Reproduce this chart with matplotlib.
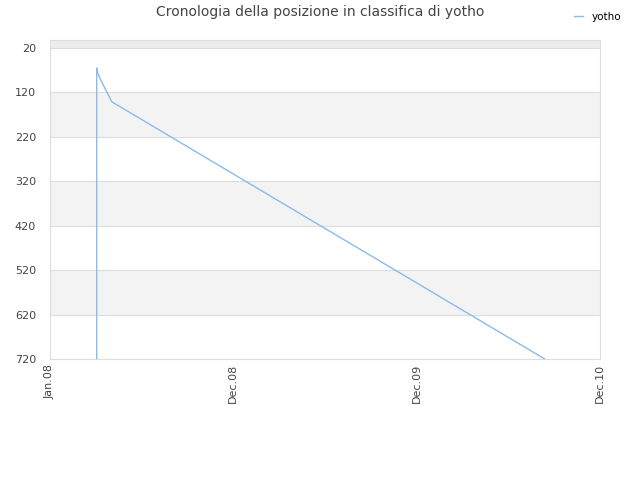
import matplotlib
matplotlib.use("Agg")
import matplotlib.pyplot as plt
import datetime as dt

# dati
date = ["2008-04-03", "2008-04-03", "2008-04-05", "2008-04-11", "2008-05-03", "2010-09-12"]
posizioni = [720, 65, 76, 92, 141, 720]
tick_date = ["2008-01-01", "2008-12-31", "2009-12-31", "2010-12-31"]
tick_etichette = ["Jan.08", "Dec.08", "Dec.09", "Dec.10"]
y_tick = [20, 120, 220, 320, 420, 520, 620, 720]

x = [dt.datetime.strptime(d, "%Y-%m-%d") for d in date]
xt = [dt.datetime.strptime(d, "%Y-%m-%d") for d in tick_date]

fig = plt.figure(figsize=(6.4, 4.8), dpi=100)
ax = fig.add_axes([50/640, 1-359/480, 550/640, 319/480])

# fasce alternate
ax.axhspan(2, 20, color="#ececec", zorder=0, lw=0)
for k in range(1, len(y_tick)-1, 2):
    ax.axhspan(y_tick[k], y_tick[k+1], color="#f3f3f3", zorder=0, lw=0)
for v in y_tick:
    ax.axhline(v, color="#dddddd", lw=0.8, zorder=1)

ax.plot(x, posizioni, color="#88bbee", lw=1, label="yotho", zorder=3)

ax.set_xlim(xt[0], xt[-1])
ax.set_ylim(720, 2)
ax.set_yticks(y_tick)
ax.set_xticks(xt)
ax.set_xticklabels(tick_etichette, rotation=90)
ax.tick_params(axis="both", length=0, labelsize=8, colors="#444444")
ax.tick_params(axis="y", pad=10)
for s in ax.spines.values():
    s.set_color("#dddddd")

fig.suptitle("Cronologia della posizione in classifica di yotho", x=0.5, y=0.99,
             fontsize=10, color="#444444")
fig.legend(loc="upper right", bbox_to_anchor=(0.985, 0.995), frameon=False,
           fontsize=7.5, handlelength=0.9, handletextpad=0.8)

fig.savefig("out.png", dpi=100)
